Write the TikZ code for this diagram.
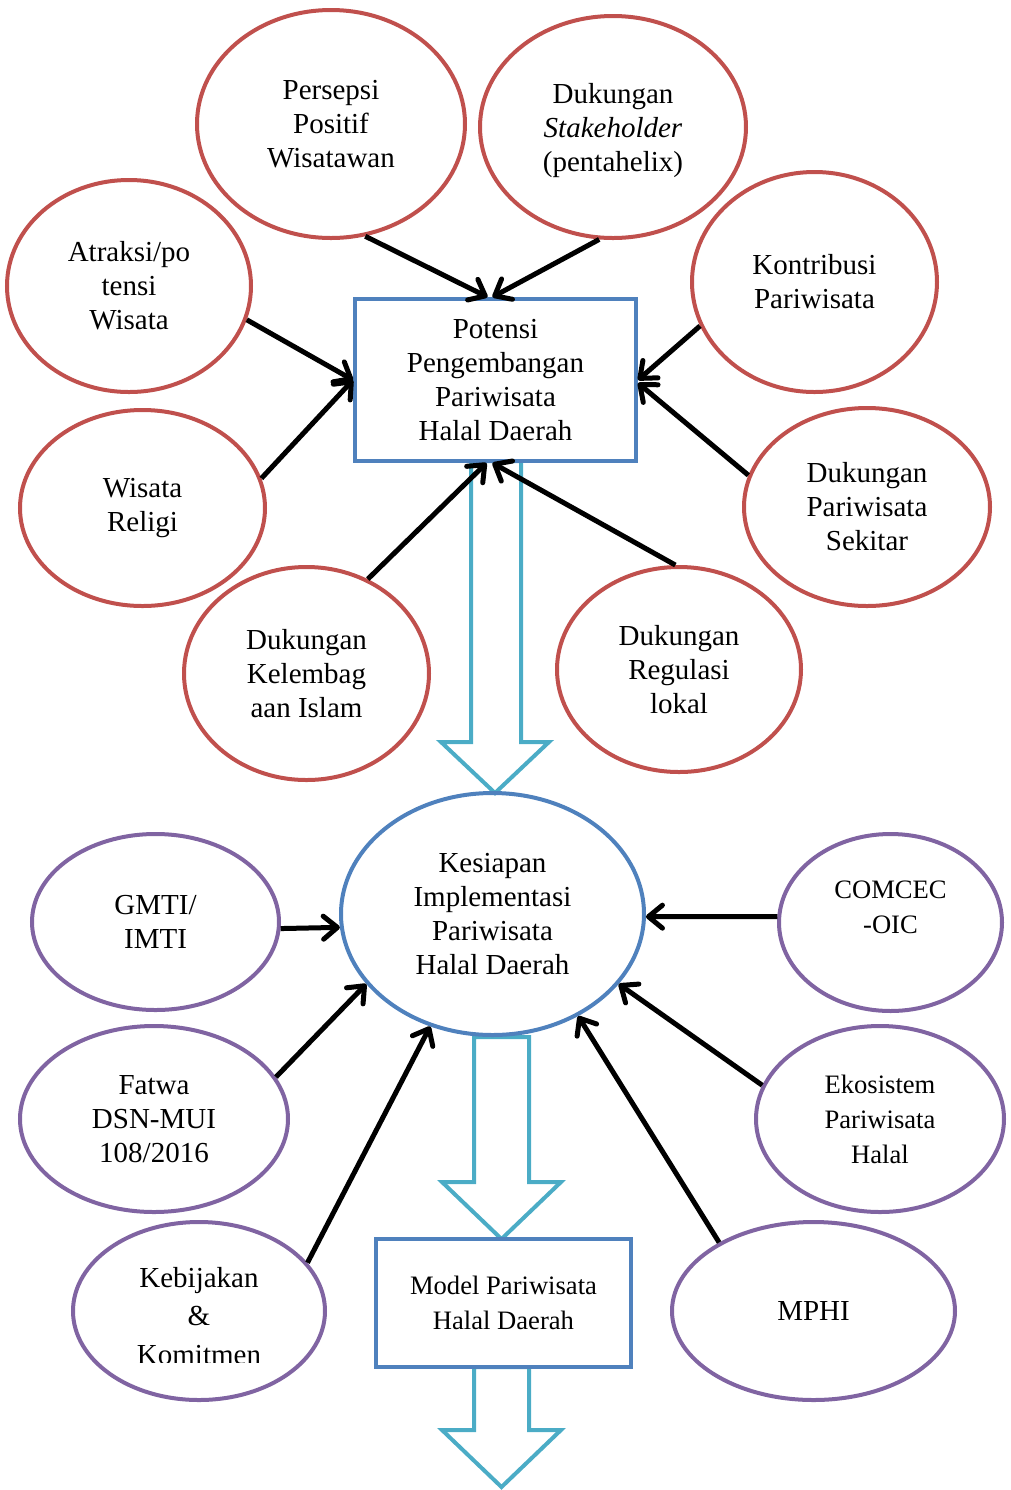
\documentclass[tikz,border=0pt]{standalone}
\usepackage{fontspec}
\setmainfont{Liberation Serif}
\usetikzlibrary{arrows.meta,shapes.geometric}
\definecolor{ovred}{HTML}{C0504D}
\definecolor{ovblue}{HTML}{4F81BD}
\definecolor{ovpurple}{HTML}{8064A2}
\definecolor{ovcyan}{HTML}{4BACC6}
\begin{document}
\begin{tikzpicture}[x=0.5pt,y=-0.5pt,
  txt/.style={align=center,font=\fontsize{14.5}{17}\selectfont},
  smalltxt/.style={align=center,font=\fontsize{13.3}{17.5}\selectfont},
  oval/.style={draw,ellipse,line width=2pt,inner sep=0pt,txt},
  redoval/.style={oval,draw=ovred},
  purpleoval/.style={oval,draw=ovpurple},
  bluebox/.style={draw=ovblue,line width=2pt,inner sep=0pt,fill=white},
  link/.style={line width=2.5pt,-{Straight Barb[length=7pt,width=11.5pt,round]}},
  blockarrow/.style={draw=ovcyan,line width=2pt,line join=miter}
]
\useasboundingbox (0,0) rectangle (1011,1490);

% hollow flow arrows between the stages
\draw[blockarrow] (471,461) -- (471,742) -- (441,742) -- (495,793) -- (549,742) -- (521,742) -- (521,461) -- cycle;
\draw[blockarrow] (474,1037) -- (474,1182) -- (442,1182) -- (501.5,1239) -- (561,1182) -- (529,1182) -- (529,1037) -- cycle;
\draw[blockarrow] (474,1367) -- (474,1430) -- (442,1430) -- (501.5,1487) -- (561,1430) -- (529,1430) -- (529,1367) -- cycle;

% first stage
\node[bluebox,minimum width=140.5pt,minimum height=81pt,txt] (potensi) at (495.5,380)
  {Potensi\\Pengembangan\\Pariwisata\\Halal Daerah};

\node[redoval,minimum width=134pt,minimum height=114pt] (persepsi) at (331,124) {Persepsi\\Positif\\Wisatawan};
\node[redoval,minimum width=133pt,minimum height=111pt] (stakeholder) at (613,127) {};
\node[txt] (stakeholdertext) at (613,131) {Dukungan\\\textit{Stakeholder}\\(pentahelix)};
\node[redoval,minimum width=122pt,minimum height=106pt] (atraksi) at (129,286) {Atraksi/po\\tensi\\Wisata};
\node[redoval,minimum width=122.5pt,minimum height=110pt] (kontribusi) at (814.5,282) {Kontribusi\\Pariwisata};
\node[redoval,minimum width=122.5pt,minimum height=98pt] (religi) at (142.5,508) {Wisata\\Religi};
\node[redoval,minimum width=123pt,minimum height=99pt] (sekitar) at (867,507) {Dukungan\\Pariwisata\\Sekitar};
\node[redoval,minimum width=122.5pt,minimum height=106.5pt] (lembaga) at (306.5,673.5) {Dukungan\\Kelembag\\aan Islam};
\node[redoval,minimum width=122pt,minimum height=102.5pt] (regulasi) at (679,669.5) {Dukungan\\Regulasi\\lokal};

\draw[link] (persepsi.-73) -- ([xshift=-4pt]potensi.north);
\draw[link] (stakeholder.-97.7) -- ([xshift=-1.5pt]potensi.north);
\draw[link] (atraksi.-16.7) -- (potensi.west);
\draw[link] (religi.14.8) -- (potensi.west);
\draw[link] (kontribusi.-159.8) -- (potensi.east);
\draw[link] (sekitar.165.2) -- ([yshift=-1.5pt]potensi.east);
\draw[link] (lembaga.57.7) -- ([xshift=-4.5pt]potensi.south);
\draw[link] (regulasi.92.3) -- ([xshift=-1.5pt]potensi.south);

% second stage
\node[oval,draw=ovblue,minimum width=151.5pt,minimum height=121pt] (kesiapan) at (492.5,914)
  {Kesiapan\\Implementasi\\Pariwisata\\Halal Daerah};

\node[purpleoval,minimum width=123.5pt,minimum height=88pt] (gmti) at (155.5,922) {GMTI/\\IMTI};
\node[purpleoval,minimum width=111.5pt,minimum height=88.5pt] (comcec) at (890.5,922.5) {};
\node[smalltxt] (comcectext) at (890.5,907.5) {COMCEC\\-OIC};
\node[purpleoval,minimum width=134pt,minimum height=93pt] (fatwa) at (154,1119) {Fatwa\\DSN-MUI\\108/2016};
\node[purpleoval,minimum width=124pt,minimum height=93pt,smalltxt] (ekosistem) at (880,1119) {Ekosistem\\Pariwisata\\Halal};
\node[purpleoval,minimum width=126pt,minimum height=89pt] (kebijakan) at (199,1311) {};
\begin{scope}
  \clip (60,1200) rectangle (340,1362);
  \node[align=center,font=\fontsize{14.5}{19.25}\selectfont] (kebijakantext) at (199,1316) {Kebijakan\\\&\\Komitmen};
\end{scope}
\node[purpleoval,minimum width=141.5pt,minimum height=89pt] (mphi) at (813.5,1311) {MPHI};

\node[bluebox,minimum width=127.5pt,minimum height=64pt,smalltxt] (model) at (503.5,1303)
  {Model Pariwisata\\Halal Daerah};

\draw[link] (gmti.-3.2) -- (kesiapan.185.6);
\draw[link] (comcec.177.7) -- (kesiapan.-1.5);
\draw[link] (fatwa.19.5) -- (kesiapan.-151.2);
\draw[link] (kebijakan.24.6) -- (kesiapan.-119.5);
\draw[link] (ekosistem.164.1) -- (kesiapan.-29.4);
\draw[link] (mphi.144.8) -- (kesiapan.-50.4);
\end{tikzpicture}
\end{document}
